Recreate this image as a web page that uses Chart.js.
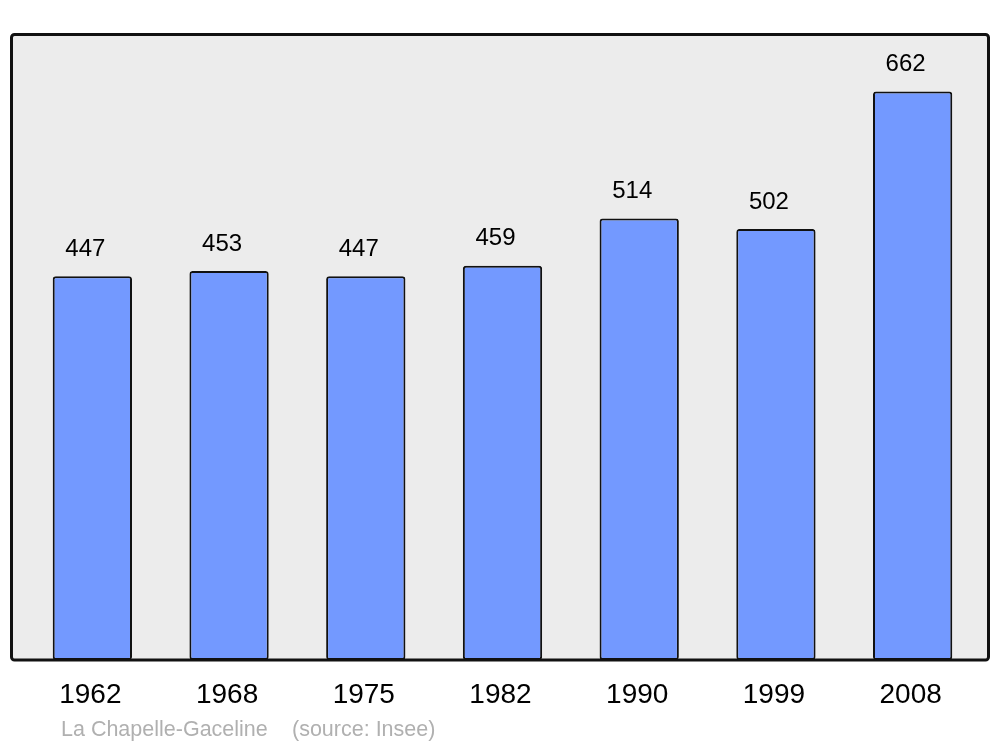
<!DOCTYPE html>
<html lang="fr">
<head>
    <meta charset="UTF-8">
    <script src="https://cdn.jsdelivr.net/npm/chart.js"></script>
    <title>La Chapelle-Gaceline</title>
    <style>
        body { margin: 0; background: #fff; }
    </style>
</head>
<body>
    <canvas id="myChart" width="1000" height="747"></canvas>

    <script>
        const years = ['1962', '1968', '1975', '1982', '1990', '1999', '2008'];
        const population = [447, 453, 447, 459, 514, 502, 662];
        const commune = 'La Chapelle-Gaceline';
        const source = '(source: Insee)';

        // frame, value labels, year labels and footer
        const decor = {
            id: 'decor',
            beforeDatasetsDraw(chart) {
                const c = chart.ctx;
                c.save();
                c.beginPath();
                c.roundRect(11.5, 34.5, 977, 625.5, 3);
                c.fillStyle = '#ececec';
                c.fill();
                c.restore();
            },
            afterDatasetsDraw(chart) {
                const c = chart.ctx;
                c.save();
                c.beginPath();
                c.roundRect(11.5, 34.5, 977, 625.5, 3);
                c.lineWidth = 3;
                c.strokeStyle = '#111';
                c.stroke();

                const meta = chart.getDatasetMeta(0);
                const xs = chart.scales.x;
                c.fillStyle = '#000';
                c.textAlign = 'center';
                c.textBaseline = 'middle';
                c.font = '24px "Liberation Sans", Arial, sans-serif';
                meta.data.forEach((bar, i) => {
                    c.fillText(String(population[i]), bar.x - 7, bar.y - 27);
                });
                c.font = '28px "Liberation Sans", Arial, sans-serif';
                years.forEach((y, i) => {
                    c.fillText(y, xs.getPixelForValue(i) - 2, 695);
                });
                c.textAlign = 'left';
                c.fillStyle = '#b0b0b0';
                c.font = '21.5px "Liberation Sans", Arial, sans-serif';
                c.fillText(commune, 61, 730);
                c.fillText(source, 292, 730);
                c.restore();
            }
        };

        const ctx = document.getElementById('myChart').getContext('2d');
        const myChart = new Chart(ctx, {
            type: 'bar',
            data: {
                labels: years,
                datasets: [{
                    data: population,
                    backgroundColor: '#7399ff',
                    borderColor: '#111',
                    borderWidth: 2,
                    borderRadius: 3,
                    borderSkipped: false,
                    barPercentage: 0.58,
                    categoryPercentage: 1
                }]
            },
            options: {
                responsive: false,
                animation: false,
                layout: { padding: { left: 24, right: 19, top: 34, bottom: 87 } },
                plugins: {
                    legend: { display: false },
                    tooltip: { enabled: false }
                },
                scales: {
                    x: { display: false },
                    y: { display: false, min: 0, max: 729 }
                }
            },
            plugins: [decor]
        });
    </script>
</body>
</html>
